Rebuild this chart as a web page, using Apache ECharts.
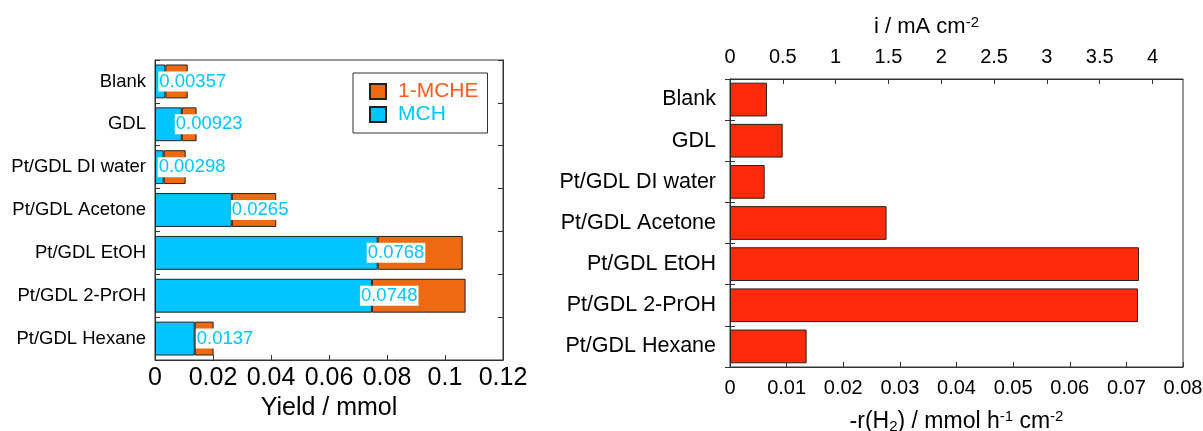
<!DOCTYPE html>
<html><head><meta charset="utf-8">
<script src="https://cdn.jsdelivr.net/npm/echarts@6/dist/echarts.min.js"></script>
<style>html,body{margin:0;padding:0;background:#fff}#c{width:1203px;height:431px}</style>
</head><body><div id="c"></div>
<script>
// ---- data ----
const categories = ['Blank', 'GDL', 'Pt/GDL DI water', 'Pt/GDL Acetone', 'Pt/GDL EtOH', 'Pt/GDL 2-PrOH', 'Pt/GDL Hexane'];
const mchYield  = [0.00357, 0.00923, 0.00298, 0.0265, 0.0768, 0.0748, 0.0137];
const mcheYield = [0.0077, 0.0051, 0.0076, 0.0153, 0.0293, 0.0323, 0.0065];
const h2Rate    = [0.00653, 0.0093, 0.00612, 0.02765, 0.07223, 0.07206, 0.01353];
const yieldRange = [0, 0.12, 0.02];
const rateRange = [0, 0.08, 0.01];
const currentTicksStep = 0.5;

// ---- layout / style (not data) ----
const labelNudge = [-7, -7, -6, -1, -11, -12, 1];
const FONT = 'Liberation Sans, Arial, Helvetica, sans-serif';
const ORANGE = '#EE6A12', CYAN = '#00C5FF', RED = '#FF2A0A', EDGE = '#222';
// current density equivalent of the rate axis: i = 2F r
const currentMax = rateRange[1] * 2 * 96485 / 3600;

const chart = echarts.init(document.getElementById('c'), null, {renderer: 'canvas'});
const tickInside = {show: true, inside: true, length: 5, lineStyle: {color: '#333', width: 1}};
const lineStyle = {show: true, lineStyle: {color: '#333', width: 1}};
const sup = {fontSize: 15, lineHeight: 13, verticalAlign: 'top', fontFamily: FONT, color: '#000'};
const sub = {fontSize: 15, lineHeight: 13, verticalAlign: 'bottom', fontFamily: FONT, color: '#000'};

chart.setOption({
  animation: false,
  backgroundColor: '#fff',
  textStyle: {fontFamily: FONT},
  grid: [
    {left: 155, top: 60, width: 348, height: 300, show: true, borderColor: '#333', borderWidth: 1,
     containLabel: false, outerBoundsMode: 'none'},
    {left: 730, top: 79, width: 453, height: 288, show: true, borderColor: '#333', borderWidth: 1,
     containLabel: false, outerBoundsMode: 'none'}
  ],
  legend: {
    orient: 'vertical', left: 353, top: 73,
    padding: [8, 9, 8, 16],
    borderColor: '#333', borderWidth: 1,
    itemWidth: 16, itemHeight: 15, itemGap: 2,
    icon: 'rect',
    textStyle: {fontSize: 21, fontFamily: FONT, lineHeight: 21, padding: [0, 0, 0, 7]},
    data: [
      {name: '1-MCHE', textStyle: {color: '#FF5A1E'}},
      {name: 'MCH', textStyle: {color: CYAN}}
    ]
  },
  xAxis: [
    {
      gridIndex: 0, type: 'value', position: 'bottom',
      min: yieldRange[0], max: yieldRange[1], interval: yieldRange[2],
      axisLine: lineStyle, axisTick: tickInside, splitLine: {show: false},
      axisLabel: {fontSize: 25, color: '#000', margin: 6, fontFamily: FONT},
      name: 'Yield / mmol', nameLocation: 'middle', nameGap: 33,
      nameTextStyle: {fontSize: 25, color: '#000', fontFamily: FONT}
    },
    {
      gridIndex: 1, type: 'value', position: 'bottom',
      min: rateRange[0], max: rateRange[1], interval: rateRange[2],
      axisLine: lineStyle, axisTick: tickInside, splitLine: {show: false},
      axisLabel: {fontSize: 20, color: '#000', margin: 11, fontFamily: FONT},
      name: '-r(H{sub|2}) / mmol h{sup|-1} cm{sup|-2}', nameLocation: 'middle', nameGap: 42,
      nameTextStyle: {fontSize: 23, color: '#000', fontFamily: FONT, lineHeight: 25, rich: {sup: sup, sub: sub}}
    },
    {
      gridIndex: 1, type: 'value', position: 'top',
      min: 0, max: currentMax, interval: currentTicksStep,
      axisLine: lineStyle, axisTick: tickInside, splitLine: {show: false},
      axisLabel: {fontSize: 20, color: '#000', margin: 12, fontFamily: FONT, showMaxLabel: false},
      name: 'i / mA cm{sup|-2}', nameLocation: 'middle', nameGap: 40,
      nameTextStyle: {fontSize: 22, color: '#000', fontFamily: FONT, lineHeight: 24, padding: [0, 60, 0, 0], rich: {sup: sup}}
    }
  ],
  yAxis: [
    {
      gridIndex: 0, type: 'category', data: categories, inverse: true, position: 'left',
      axisLine: lineStyle, axisTick: tickInside,
      axisLabel: {fontSize: 18.5, color: '#000', margin: 9, fontFamily: FONT}
    },
    {
      gridIndex: 0, type: 'category', data: categories, inverse: true, position: 'right',
      axisLine: lineStyle, axisTick: tickInside, axisLabel: {show: false}
    },
    {
      gridIndex: 1, type: 'category', data: categories, inverse: true, position: 'left',
      axisLine: lineStyle, axisTick: tickInside,
      axisLabel: {fontSize: 21.5, color: '#000', margin: 14, fontFamily: FONT}
    },
    {
      gridIndex: 1, type: 'category', data: categories, inverse: true, position: 'right',
      axisLine: lineStyle, axisTick: tickInside, axisLabel: {show: false}
    }
  ],
  series: [
    {
      name: 'MCH', type: 'bar', stack: 'yield', xAxisIndex: 0, yAxisIndex: 0,
      barCategoryGap: '21%',
      itemStyle: {color: CYAN, borderColor: EDGE, borderWidth: 1},
      data: mchYield.map((v, i) => ({value: v, label: {offset: [labelNudge[i], 0]}})),
      label: {
        show: true, position: 'right', distance: 0,
        formatter: p => String(mchYield[p.dataIndex]),
        color: CYAN, fontSize: 18.5, fontFamily: FONT,
        backgroundColor: '#fff', padding: [1, 1, 0, 1]
      },
      z: 2
    },
    {
      name: '1-MCHE', type: 'bar', stack: 'yield', xAxisIndex: 0, yAxisIndex: 0,
      barCategoryGap: '21%',
      itemStyle: {color: ORANGE, borderColor: EDGE, borderWidth: 1},
      data: mcheYield,
      z: 2
    },
    {
      name: 'rate', type: 'bar', xAxisIndex: 1, yAxisIndex: 2,
      barCategoryGap: '18%',
      itemStyle: {color: RED, borderColor: EDGE, borderWidth: 1},
      data: h2Rate
    }
  ]
});
</script>
</body></html>
